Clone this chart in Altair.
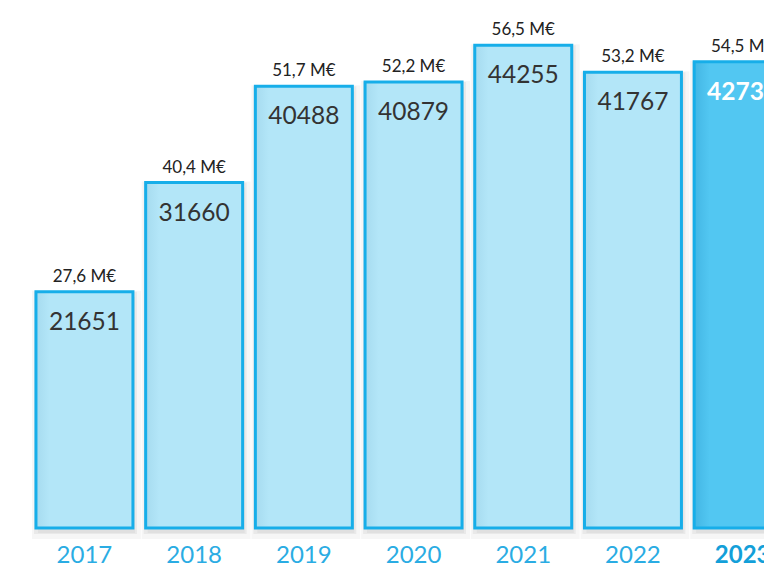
import altair as alt
import pandas as pd

years = ["2017", "2018", "2019", "2020", "2021", "2022", "2023"]
counts = [21651, 31660, 40488, 40879, 44255, 41767, 42730]
amounts = [27.6, 40.4, 51.7, 52.2, 56.5, 53.2, 54.5]

df = pd.DataFrame({
    "year": years,
    "count": counts,
    "amount": [f"{a:.1f}".replace(".", ",") + " M€" for a in amounts],
    "current": [y == "2023" for y in years],
})

FONT = "Lato"

x = alt.X(
    "year:N",
    sort=years,
    title=None,
    scale=alt.Scale(range=[29.6, 797.5], paddingInner=0.116, paddingOuter=0.058),
    axis=alt.Axis(
        domain=False,
        ticks=False,
        tickSize=0,
        labelPadding=34,
        labelBaseline="alphabetic",
        labelAngle=0,
        labelFont=FONT,
        labelFontSize=24,
        labelColor={"condition": {"test": "datum.value == '2023'", "value": "#139fd9"}, "value": "#2aace3"},
        labelFontWeight={"condition": {"test": "datum.value == '2023'", "value": "bold"}, "value": "normal"},
        grid=False,
    ),
)
y = alt.Y("count:Q", scale=alt.Scale(domain=[0, 48400]), axis=None)

base = alt.Chart(df).encode(x=x, y=y)

shadow1 = base.mark_bar(
    fill="#000", fillOpacity=0.04, stroke="#000", strokeOpacity=0.035, strokeWidth=12, yOffset=5, xOffset=2
)
shadow2 = base.mark_bar(
    fill="#000", fillOpacity=0.0, stroke="#000", strokeOpacity=0.05, strokeWidth=6, yOffset=3, xOffset=1
)

grad_light = alt.Gradient(
    gradient="linear", x1=0, x2=1, y1=0, y2=0,
    stops=[
        alt.GradientStop(color="#a6dbef", offset=0),
        alt.GradientStop(color="#b3e6f8", offset=0.14),
        alt.GradientStop(color="#b3e6f8", offset=1),
    ],
)
grad_dark = alt.Gradient(
    gradient="linear", x1=0, x2=1, y1=0, y2=0,
    stops=[
        alt.GradientStop(color="#43b6e4", offset=0),
        alt.GradientStop(color="#52c7f2", offset=0.16),
        alt.GradientStop(color="#52c7f2", offset=1),
    ],
)

bars_light = base.transform_filter("!datum.current").mark_bar(
    fill=grad_light, stroke="#17aee9", strokeWidth=3
)
bars_dark = base.transform_filter("datum.current").mark_bar(
    fill=grad_dark, stroke="#17aee9", strokeWidth=3
)

amount_text = base.mark_text(
    baseline="alphabetic", dy=-10, font=FONT, fontSize=17, color="#222222"
).encode(text="amount:N")

count_light = base.transform_filter("!datum.current").mark_text(
    baseline="alphabetic", dy=38, font=FONT, fontSize=24.5, color="#333333"
).encode(text="count:Q")
count_dark = base.transform_filter("datum.current").mark_text(
    baseline="alphabetic", dy=38, font=FONT, fontSize=24.5, fontWeight="bold", color="#ffffff"
).encode(text="count:Q")

chart = (
    alt.layer(shadow1, shadow2, bars_light, bars_dark, amount_text, count_light, count_dark)
    .properties(
        width=764,
        height=528,
        padding={"left": 0, "top": 0, "right": 0, "bottom": 36},
        autosize=alt.AutoSizeParams(type="none"),
        background="#ffffff",
    )
    .configure_view(stroke="transparent", strokeWidth=0)
)

chart.save("out.html", embed_options={"renderer": "svg", "actions": False})
